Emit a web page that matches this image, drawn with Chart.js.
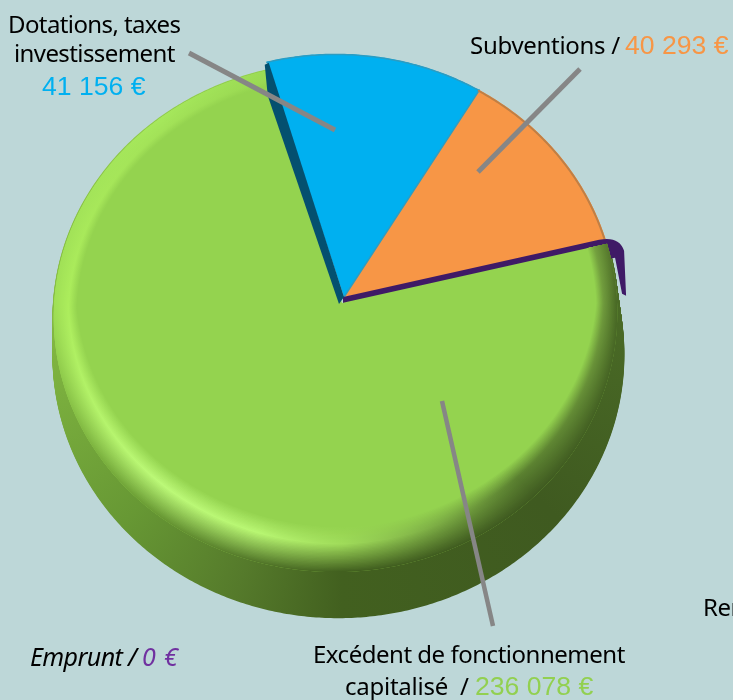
<!DOCTYPE html>
<html><head><meta charset="utf-8">
<style>html,body{margin:0;padding:0;background:#bdd7d8;overflow:hidden}canvas{display:block}</style>
<script src="https://cdn.jsdelivr.net/npm/chart.js@4"></script>
</head><body><canvas id="c" width="733" height="700"></canvas>
<script>
const categories = ["Dotations, taxes investissement","Subventions","Emprunt","Excédent de fonctionnement capitalisé"];
const values = [41156, 40293, 0, 236078];
const colors = ["#00b0f0","#f79646","#7030a0","#94d34f"];
const wallColors = ["#04506f","#a8652c","#3f1a66","#42601f"];
const rotationDeg = -16;

// perspective of the disc
const P = 0.0231, Q = -0.0386, AX = 1.005, BY = 0.9236;
const DEPTH_X = 3, DEPTH_Y = 42, DEPTH_S = 1.0107;
const LIFT = 9;
let bigEl = null;

function mapPt(el, ang, r, s){
  const R = el.outerRadius, u = r*Math.cos(ang), v = r*Math.sin(ang), w = 1+P*u+Q*v;
  const f = 1 + (DEPTH_S-1)*s;
  let lift = 0;
  if(el===bigEl && u<0) lift = LIFT*(r-v)/2*Math.min(1,-u/r*4);
  return [el.x + (R*AX*u/w)*f + DEPTH_X*s, el.y + (R*BY*v/w)*f + DEPTH_Y*s + lift*(1-s)];
}
function rimPath(ctx, el, a0, a1, rf, s, move){
  const n = Math.max(2, Math.ceil(Math.abs(a1-a0)/0.01));
  for(let i=0;i<=n;i++){
    const a = a0+(a1-a0)*i/n;
    const p = mapPt(el, a, typeof rf==="function"?rf(a):rf, s);
    if(i===0 && move) ctx.moveTo(p[0],p[1]); else ctx.lineTo(p[0],p[1]);
  }
}
const TIP_X = 2, TIP_Y = -6;
function sector(ctx, el, shiftTip){
  ctx.beginPath(); ctx.moveTo(el.x+(shiftTip?TIP_X:0), el.y+(shiftTip?TIP_Y:0));
  rimPath(ctx, el, el.startAngle, el.endAngle, 1, 0, false);
  ctx.closePath();
}
function hex(c){return [1,3,5].map(i=>parseInt(c.substr(i,2),16));}
function mix(a,b,t){const x=hex(a),y=hex(b);return "#"+x.map((v,i)=>Math.round(v+(y[i]-v)*t).toString(16).padStart(2,"0")).join("");}
// rim shading, by canvas angle in degrees (0 = right, 90 = bottom)
const shadeAngles = [0,45,90,110,135,180,225,270,315,360];
const shadeHigh = ["#6f9a3c","#5a8030","#a0dc5a","#b8f672","#bcf978","#aced5c","#a2e258","#94d34f","#80b245","#6f9a3c"];
const shadeWall = ["#4a6b26","#3f5a20","#42601f","#557a2b","#679834","#86bc44","#92cc4e","#94d34f","#5f8a30","#4a6b26"];
const shadeEdge = ["#4a6b26","#3f5a20","#42601f","#557a2b","#6d9f36","#a0e056","#a6e85c","#94d34f","#7fa845","#4a6b26"];
function conic(ctx, el, fn){
  const g = ctx.createConicGradient(0, el.x, el.y);
  shadeAngles.forEach((a,i)=>g.addColorStop(a/360, fn(i)));
  return g;
}
function bevelWidth(a){ return 0.055+0.105*Math.max(0,Math.sin(a))+0.02*Math.abs(Math.cos(a)); }

const drawPie3D = {
  id:"drawPie3D",
  beforeDatasetsDraw(chart){
    const ctx = chart.ctx, els = chart.getDatasetMeta(0).data;
    const [blue, orange, purple, green] = els;
    bigEl = green;
    ctx.save();
    // side wall of the big slice
    ctx.lineCap = "round";
    ctx.strokeStyle = conic(ctx, green, i=>shadeWall[i]);
    ctx.lineWidth = 2.5;
    for(let s=0;s<=1.0001;s+=0.02){
      ctx.beginPath(); rimPath(ctx, green, green.startAngle, green.endAngle, 1, s, true); ctx.stroke();
    }
    // flat slices
    [blue, orange].forEach((el,i)=>{
      sector(ctx, el, true); ctx.fillStyle = colors[i]; ctx.fill();
    });
    ctx.lineWidth = 1.5;
    ctx.strokeStyle = "#2b9cc2";
    ctx.beginPath(); rimPath(ctx, blue, blue.startAngle, blue.endAngle, 0.998, 0, true); ctx.stroke();
    ctx.beginPath(); ctx.moveTo(blue.x+TIP_X, blue.y+TIP_Y); const be = mapPt(blue, blue.endAngle, 1, 0); ctx.lineTo(be[0],be[1]); ctx.stroke();
    ctx.strokeStyle = "#c07f45"; ctx.lineWidth = 2;
    ctx.beginPath(); rimPath(ctx, orange, orange.startAngle, orange.endAngle, 0.996, 0, true); ctx.stroke();
    // the empty slice only shows as a wall
    const pe = mapPt(purple, purple.startAngle, 1, 0);
    ctx.fillStyle = wallColors[2];
    ctx.beginPath();
    ctx.moveTo(purple.x+1, purple.y-6);
    ctx.lineTo(pe[0]-8, pe[1]-4);
    ctx.quadraticCurveTo(pe[0]+12, pe[1]-8, pe[0]+17, pe[1]+7);
    ctx.lineTo(pe[0]+19, pe[1]+52);
    ctx.lineTo(pe[0]+15, pe[1]+50);
    ctx.lineTo(pe[0]+8, pe[1]+14);
    ctx.lineTo(purple.x+1, purple.y+4);
    ctx.closePath(); ctx.fill();
    // top of the big slice with its soft edge
    sector(ctx, green, false); ctx.fillStyle = colors[3]; ctx.fill();
    ctx.save();
    sector(ctx, green, false); ctx.clip();
    const rings = 34;
    for(let k=0;k<=rings;k++){
      const t = k/rings;
      ctx.strokeStyle = conic(ctx, green, i=> t<0.38 ? mix(colors[3], shadeHigh[i], t/0.38) : mix(shadeHigh[i], shadeEdge[i], (t-0.38)/0.62));
      ctx.lineWidth = 2.5;
      ctx.beginPath(); rimPath(ctx, green, green.startAngle, green.endAngle, a=>1-(1-t)*bevelWidth(a), 0, true); ctx.stroke();
    }
    ctx.restore();
    // wall of the blue slice, lying over the big one
    const bs = mapPt(blue, blue.startAngle, 1, 0);
    ctx.fillStyle = wallColors[0];
    ctx.beginPath();
    ctx.moveTo(bs[0]+2, bs[1]+1);
    ctx.lineTo(blue.x+TIP_X, blue.y+TIP_Y);
    ctx.lineTo(blue.x-3, blue.y+1);
    ctx.lineTo(bs[0]+1, bs[1]+34);
    ctx.lineTo(bs[0]-2, bs[1]+3);
    ctx.closePath(); ctx.fill();
    ctx.restore();
    return false;
  },
  afterDraw(chart){
    const ctx = chart.ctx;
    ctx.save();
    ctx.strokeStyle = "#868686"; ctx.lineCap = "butt";
    leaders.forEach(l=>{ctx.lineWidth=l[4];ctx.beginPath();ctx.moveTo(l[0],l[1]);ctx.lineTo(l[2],l[3]);ctx.stroke();});
    ctx.textBaseline = "alphabetic";
    ctx.textAlign = "left";
    texts.forEach(t=>{
      ctx.font = t.f; ctx.fillStyle = t.c; ctx.letterSpacing = t.ls || "0px";
      ctx.fillText(t.s, t.x, t.y);
    });
    ctx.restore();
  }
};

const leaders = [[189,53,335,130,5],[580,69,478,172,5],[442,401,493,626,4.5]];
const LBL = '24px "Noto Sans"', LBLI = 'italic 25px "Noto Sans"', NUM = '26.6px "Liberation Sans"';
const texts = [
 {s:"Dotations, taxes",x:8,y:33,f:LBL,c:"#000",ls:"-0.6px"},
 {s:"investissement",x:14,y:62,f:LBL,c:"#000",ls:"-0.6px"},
 {s:"41 156 €",x:42,y:95,f:NUM,c:"#00b0f0"},
 {s:"Subventions /",x:470,y:54,f:LBL,c:"#000",ls:"-0.3px"},
 {s:"40 293 €",x:625,y:54,f:NUM,c:"#f79646"},
 {s:"Emprunt /",x:30,y:666,f:LBLI,c:"#000",ls:"-0.6px"},
 {s:"0 €",x:142,y:666,f:LBLI,c:"#7030a0",ls:"0.8px"},
 {s:"Excédent de fonctionnement",x:313,y:663,f:LBL,c:"#000",ls:"-0.48px"},
 {s:"capitalisé  /",x:345,y:695,f:LBL,c:"#000",ls:"-0.25px"},
 {s:"236 078 €",x:475,y:695,f:NUM,c:"#92d050"},
 {s:"Remboursement",x:703,y:616,f:LBL,c:"#000",ls:"-0.5px"}
];

new Chart(document.getElementById("c"),{
  type:"pie",
  plugins:[drawPie3D],
  data:{labels:categories,datasets:[{data:values,backgroundColor:colors,borderWidth:0}]},
  options:{
    responsive:false,animation:false,rotation:rotationDeg,
    layout:{padding:{left:62,right:111,top:23,bottom:117}},
    plugins:{legend:{display:false},tooltip:{enabled:false}}
  }
});
</script></body></html>
